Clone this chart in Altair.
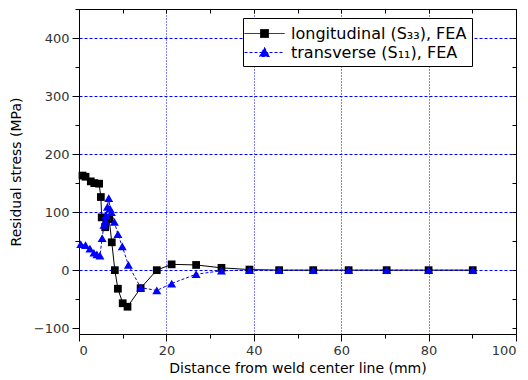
import altair as alt
import pandas as pd

# ---- data ----
x_long = [0.8, 1.5, 2.7, 3.5, 4.6, 5.0, 5.2, 6.0, 6.9, 7.5, 8.2, 8.9, 10.0, 11.1,
          14.1, 17.8, 21.2, 26.8, 32.6, 39.0, 45.8, 53.6, 61.7, 70.4, 80.0, 90.1]
y_long = [163, 161, 153, 150, 149, 126, 91, 74, 88, 48, 0, -32, -57, -63,
          -31, 0, 10, 9, 4, 1, 0, 0, 0, 0, 0, 0]

x_trans = [0.4, 1.5, 2.5, 3.4, 4.1, 4.8, 5.3, 5.7, 6.0, 6.2, 6.5, 6.8, 7.1, 7.4,
           8.1, 8.9, 9.9, 11.3, 14.1, 17.8, 21.2, 26.8, 32.6, 39.0, 45.8, 53.6,
           61.7, 70.4, 80.0, 90.1]
y_trans = [45, 43, 37, 30, 27, 25, 55, 78, 85, 95, 109, 124, 106, 100,
           83, 62, 41, 9, -30, -35, -23, -7, -1, 0, 0, 0,
           0, 0, 0, 0]

series_names = ["longitudinal (S\u2083\u2083), FEA", "transverse (S\u2081\u2081), FEA"]

x_ticks = list(range(0, 101, 10))
y_ticks = list(range(-100, 451, 50))

FONT = "DejaVu Sans"
BLUE = "#0000ff"

df_long = pd.DataFrame({"x": x_long, "y": y_long})
df_trans = pd.DataFrame({"x": x_trans, "y": y_trans})
df_leg = pd.DataFrame({"x": [0.0, 0.0], "y": [0.0, 0.0], "series": series_names})

xscale = alt.Scale(domain=[0, 100], nice=False, zero=False)
yscale = alt.Scale(domain=[-110, 450], nice=False, zero=False)

x_axis = alt.Axis(
    orient="bottom", values=x_ticks,
    labelExpr="datum.value % 20 === 0 ? datum.label : ''",
    tickSize={"condition": {"test": "datum.value % 20 === 0", "value": 7}, "value": 4},
    grid=True, gridColor=BLUE, gridDash=[1, 2], gridWidth=1,
    gridOpacity={"condition": {"test": "datum.value % 20 === 0 && datum.value > 0 && datum.value < 100", "value": 1}, "value": 0},
    title="Distance from weld center line (mm)", titlePadding=4,
    labelPadding=3,
)
y_axis = alt.Axis(
    orient="left", values=y_ticks,
    labelExpr="datum.value % 100 === 0 ? datum.label : ''",
    tickSize={"condition": {"test": "datum.value % 100 === 0", "value": 7}, "value": 4},
    grid=True, gridColor=BLUE, gridDash=[3, 2], gridWidth=1,
    gridOpacity={"condition": {"test": "datum.value % 100 === 0 && datum.value >= 0", "value": 1}, "value": 0},
    title="Residual stress (MPa)", titlePadding=10,
    labelPadding=3,
)
# mirrored axes with inward ticks: shift axis inward by the tick length
x_axis_top = alt.Axis(orient="top", values=x_ticks, labels=False, title=None, grid=False,
                      domain=False, tickSize=4, offset=-4)
y_axis_right = alt.Axis(orient="right", values=y_ticks, labels=False, title=None, grid=False,
                        domain=False, tickSize=4, offset=-4)

line_long = alt.Chart(df_long).mark_line(color="black", strokeWidth=1).encode(
    x=alt.X("x:Q", scale=xscale, axis=x_axis),
    y=alt.Y("y:Q", scale=yscale, axis=y_axis),
)
pts_long = alt.Chart(df_long).mark_point(shape="square", filled=True, color="black",
                                         size=60, opacity=1).encode(
    x=alt.X("x:Q", scale=xscale, axis=None), y=alt.Y("y:Q", scale=yscale, axis=None))
line_trans = alt.Chart(df_trans).mark_line(color=BLUE, strokeWidth=1, strokeDash=[3, 2]).encode(
    x=alt.X("x:Q", scale=xscale, axis=None), y=alt.Y("y:Q", scale=yscale, axis=None))
pts_trans = alt.Chart(df_trans).mark_point(shape="triangle-up", filled=True, color=BLUE,
                                           size=80, opacity=1).encode(
    x=alt.X("x:Q", scale=xscale, axis=None), y=alt.Y("y:Q", scale=yscale, axis=None))

sq_path = "M-1.4,0H2.6M0.2,-0.4H1.0V0.4H0.2Z"
tri_path = "M0.6,-0.5L1.1,0.4L0.1,0.4Z M-1.4,0H2.6"

legend = alt.Legend(title=None, orient="none", legendX=164, legendY=9,
                    fillColor="white", strokeColor="black", padding=5,
                    symbolSize=400, labelFontSize=16, labelFont=FONT, labelColor="black",
                    labelOffset=22, labelLimit=400, rowPadding=0, symbolStrokeWidth=1)

leg_layer = alt.Chart(df_leg).transform_filter("false").mark_point(
    filled=True, opacity=1, strokeWidth=1).encode(
    x=alt.X("x:Q", scale=xscale, axis=x_axis_top),
    y=alt.Y("y:Q", scale=yscale, axis=y_axis_right),
    color=alt.Color("series:N", scale=alt.Scale(domain=series_names, range=["black", BLUE]), legend=legend),
    stroke=alt.Stroke("series:N", scale=alt.Scale(domain=series_names, range=["black", BLUE]), legend=legend),
    shape=alt.Shape("series:N", scale=alt.Scale(domain=series_names, range=[sq_path, tri_path]), legend=legend),
    strokeDash=alt.StrokeDash("series:N", scale=alt.Scale(domain=series_names, range=[[1, 0], [3, 2]]), legend=legend),
)

chart = alt.layer(line_long, line_trans, pts_long, pts_trans, leg_layer).resolve_axis(
    x="independent", y="independent"
).properties(
    width=437, height=325,
    autosize=alt.AutoSizeParams(type="none"),
    padding={"left": 79, "top": 9, "right": 12, "bottom": 46},
).configure_view(
    stroke="black", strokeWidth=1
).configure_axis(
    labelFont=FONT, titleFont=FONT, labelFontSize=13, titleFontSize=14,
    labelColor="#333333", titleColor="black", titleFontWeight="normal",
    domainColor="black", tickColor="black", domainWidth=1, tickWidth=1,
)

chart.save("out.html", embed_options={"renderer": "svg", "actions": False})
